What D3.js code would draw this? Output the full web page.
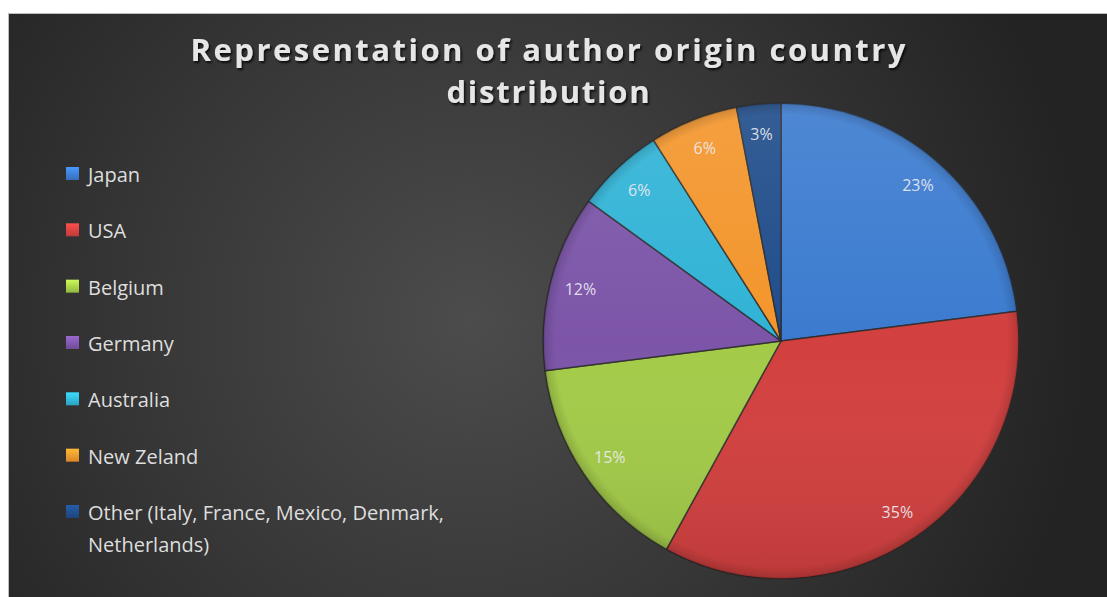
<!DOCTYPE html>
<html>
<head>
<meta charset="utf-8">
<script src="https://cdn.jsdelivr.net/npm/d3@7/dist/d3.min.js"></script>
<style>
  html, body { margin: 0; padding: 0; background: #ffffff; }
  svg { display: block; }
</style>
</head>
<body>
<svg id="chart" width="1107" height="597"></svg>
<script>
// Author origin countries, share of publications (%)
const countries = ["Japan", "USA", "Belgium", "Germany", "Australia", "New Zeland",
  "Other (Italy, France, Mexico, Denmark, Netherlands)"];
const shares = [23, 35, 15, 12, 6, 6, 3];
const sliceColors = ["#3b7bcf", "#d2403f", "#a3cb48", "#7c55a8", "#30b3d6", "#f3952b", "#1f4c8a"];
const titleLines = ["Representation of author origin country", "distribution"];

const W = 1107, H = 597;
const svg = d3.select("#chart");
const defs = svg.append("defs");

// Chart area background: dark radial gradient
const bg = defs.append("radialGradient").attr("id", "bgGrad")
  .attr("gradientUnits", "userSpaceOnUse")
  .attr("cx", 470).attr("cy", 320).attr("r", 620);
bg.append("stop").attr("offset", "0").attr("stop-color", "#4c4c4c");
bg.append("stop").attr("offset", "0.55").attr("stop-color", "#363636");
bg.append("stop").attr("offset", "1").attr("stop-color", "#232323");

svg.append("rect").attr("x", 8).attr("y", 13).attr("width", W - 8).attr("height", H - 13)
  .attr("fill", "url(#bgGrad)");
svg.append("line").attr("x1", 8).attr("x2", W).attr("y1", 13.5).attr("y2", 13.5)
  .attr("stroke", "#bdbdbd").attr("stroke-width", 1);
svg.append("line").attr("x1", 8.5).attr("x2", 8.5).attr("y1", 13).attr("y2", H)
  .attr("stroke", "#bdbdbd").attr("stroke-width", 1);

// Soft drop shadow for the title
const sh = defs.append("filter").attr("id", "txtShadow")
  .attr("x", "-10%").attr("y", "-30%").attr("width", "120%").attr("height", "160%");
sh.append("feDropShadow").attr("dx", 1.5).attr("dy", 2).attr("stdDeviation", 1.2)
  .attr("flood-color", "#000").attr("flood-opacity", 0.8);

// Title
const titleWidths = [715, 203];
svg.append("g").selectAll("text").data(titleLines).join("text")
  .attr("x", 548)
  .attr("y", (d, i) => 61 + i * 42)
  .attr("text-anchor", "middle")
  .attr("font-family", "'Open Sans', sans-serif")
  .attr("font-weight", 700)
  .attr("font-size", 31)
  .attr("fill", "#e6e6e6")
  .attr("textLength", (d, i) => titleWidths[i])
  .attr("lengthAdjust", "spacing")
  .attr("filter", "url(#txtShadow)")
  .text(d => d);

// Pie
const cx = 781, cy = 341, R = 238;
const pie = d3.pie().sort(null).value(d => d)(shares);
const arc = d3.arc().innerRadius(0).outerRadius(R);
const labelArc = d3.arc().innerRadius(R * 0.87).outerRadius(R * 0.87);

// Gradients below are in the pie group's local coordinates (centre at 0,0)
const shade = defs.append("linearGradient").attr("id", "shade")
  .attr("gradientUnits", "userSpaceOnUse")
  .attr("x1", 0).attr("y1", -R).attr("x2", 0).attr("y2", R);
shade.append("stop").attr("offset", "0").attr("stop-color", "#fff").attr("stop-opacity", 0.10);
shade.append("stop").attr("offset", "0.5").attr("stop-color", "#fff").attr("stop-opacity", 0);
shade.append("stop").attr("offset", "1").attr("stop-color", "#000").attr("stop-opacity", 0.10);

const rim = defs.append("radialGradient").attr("id", "rim")
  .attr("gradientUnits", "userSpaceOnUse")
  .attr("cx", 0).attr("cy", 0).attr("r", R);
rim.append("stop").attr("offset", "0.95").attr("stop-color", "#000").attr("stop-opacity", 0);
rim.append("stop").attr("offset", "0.99").attr("stop-color", "#000").attr("stop-opacity", 0.12);
rim.append("stop").attr("offset", "1").attr("stop-color", "#000").attr("stop-opacity", 0.3);

const pg = svg.append("g").attr("transform", `translate(${cx},${cy})`);
pg.selectAll("path.slice").data(pie).join("path")
  .attr("class", "slice")
  .attr("d", arc)
  .attr("fill", (d, i) => sliceColors[i])
  .attr("stroke", "#2a2a2a")
  .attr("stroke-opacity", 0.8)
  .attr("stroke-width", 1.5)
  .attr("stroke-linejoin", "round");

pg.append("circle").attr("r", R).attr("fill", "url(#shade)").attr("pointer-events", "none");
pg.append("circle").attr("r", R).attr("fill", "url(#rim)").attr("pointer-events", "none");

// Data labels
pg.selectAll("text.val").data(pie).join("text")
  .attr("class", "val")
  .attr("transform", d => {
    const [x, y] = labelArc.centroid(d);
    return `translate(${x},${y})`;
  })
  .attr("text-anchor", "middle")
  .attr("dy", "0.35em")
  .attr("font-family", "'Open Sans', sans-serif")
  .attr("font-size", 16)
  .attr("fill", "#ecebf2")
  .attr("fill-opacity", 0.92)
  .text(d => d.data + "%");

// Legend
const legendY = d3.scalePoint().domain(countries).range([176, 514]);
const lg = svg.append("g");
const items = lg.selectAll("g").data(countries).join("g")
  .attr("transform", d => `translate(66,${legendY(d)})`);

countries.forEach((c, i) => {
  const g = defs.append("linearGradient").attr("id", "sw" + i)
    .attr("x1", 0).attr("y1", 0).attr("x2", 0).attr("y2", 1);
  g.append("stop").attr("offset", "0").attr("stop-color", d3.color(sliceColors[i]).brighter(0.6));
  g.append("stop").attr("offset", "1").attr("stop-color", d3.color(sliceColors[i]).darker(0.3));
});

items.append("rect")
  .attr("x", 0).attr("y", -9).attr("width", 13).attr("height", 13)
  .attr("fill", (d, i) => `url(#sw${i})`);

items.append("text")
  .attr("x", 22).attr("y", 6)
  .attr("font-family", "'Open Sans', sans-serif")
  .attr("font-size", 20)
  .attr("fill", "#dedede")
  .each(function (d) {
    // wrap long labels at ~370px
    const t = d3.select(this);
    const words = d.split(" ");
    let line = [];
    let ts = t.append("tspan").attr("x", 22).attr("dy", 0);
    words.forEach(w => {
      line.push(w);
      ts.text(line.join(" "));
      if (ts.node().getComputedTextLength() > 370 && line.length > 1) {
        line.pop();
        ts.text(line.join(" "));
        line = [w];
        ts = t.append("tspan").attr("x", 22).attr("dy", 32).text(w);
      }
    });
  });
</script>
</body>
</html>
